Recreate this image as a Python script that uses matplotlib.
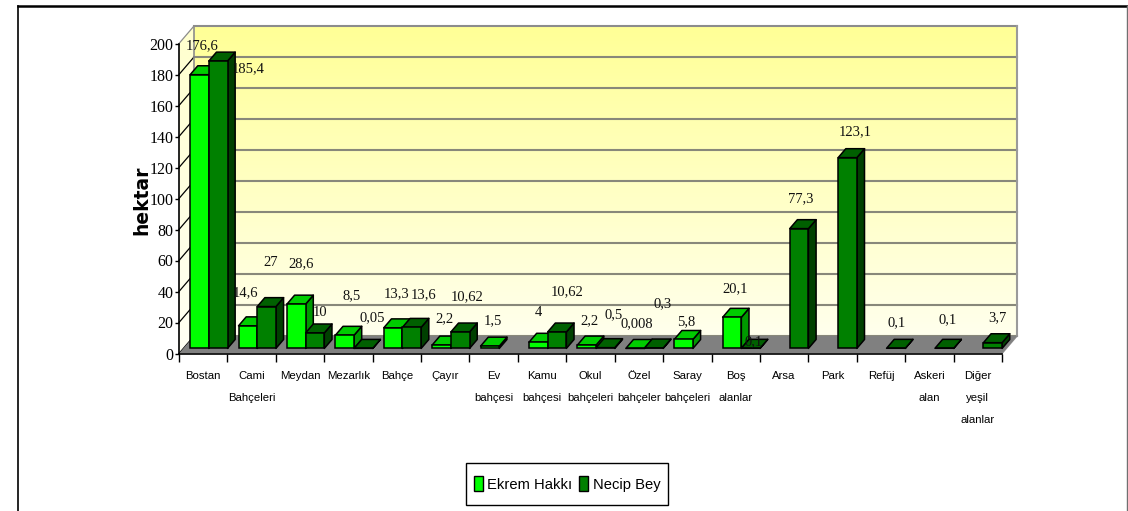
import numpy as np
import matplotlib
matplotlib.use("Agg")
import matplotlib.pyplot as plt
from matplotlib.lines import Line2D
from matplotlib.patches import Patch, Polygon, Rectangle

categories = ["Bostan", "Cami\nBahçeleri", "Meydan", "Mezarlık", "Bahçe", "Çayır", "Ev\nbahçesi",
              "Kamu\nbahçesi", "Okul\nbahçeleri", "Özel\nbahçeler", "Saray\nbahçeleri", "Boş\nalanlar",
              "Arsa", "Park", "Refüj", "Askeri\nalan", "Diğer\nyeşil\nalanlar"]
ekrem = [176.6, 14.6, 28.6, 8.5, 13.3, 2.2, 1.5, 4, 2.2, 0.008, 5.8, 20.1,
         None, None, None, None, None]
necip = [185.4, 27, 10, 0.05, 13.6, 10.62, None, 10.62, 0.5, 0.3, None, 0.1,
         77.3, 123.1, 0.1, 0.1, 3.7]
ekrem_text = ["176,6", "14,6", "28,6", "8,5", "13,3", "2,2", "1,5", "4", "2,2", "0,008", "5,8", "20,1",
              None, None, None, None, None]
necip_text = ["185,4", "27", "10", "0,05", "13,6", "10,62", None, "10,62", "0,5", "0,3", None, "0,1",
              "77,3", "123,1", "0,1", "0,1", "3,7"]

# hand placed value labels, pixels from the top of the bar front
ekrem_nudge = [(3, 29), (-2, 33), (5, 40), (7, 40), (3, 34), (3, 26), (3, 25), (0, 30), (3, 24), (2, 25),
               (3, 18), (3, 29), None, None, None, None, None]
necip_nudge = [(30, -8), (4, 44), (5, 20), (9, 31), (12, 33), (7, 35), None, (10, 40), (8, 33), (9, 44),
               None, (3, 7), (2, 30), (8, 26), (1, 26), (3, 29), (5, 25)]

W, H = 1128, 511
LEFT, RIGHT, BOTTOM, TOP = 179, 1002, 353.5, 43.5
DEPTH_PX = (15, 17.5)
N = len(categories)
YMAX = 200
X_UNIT = (RIGHT - LEFT) / N
Y_UNIT = (BOTTOM - TOP) / YMAX
DX, DY = DEPTH_PX[0] / X_UNIT, DEPTH_PX[1] / Y_UNIT

NUM_FONT = "Liberation Serif"
CAT_FONT = "Liberation Sans"

fig = plt.figure(figsize=(W / 100, H / 100), dpi=100)
ax = fig.add_axes([LEFT / W, 1 - BOTTOM / H, (RIGHT - LEFT) / W, (BOTTOM - TOP) / H])


def pt(x, v, d=0.0):
    return (x + d * DX, v + d * DY)


def face(points, color, z, ec="black", lw=1.1):
    p = Polygon(points, closed=True, fc=color, ec=ec, lw=lw, clip_on=False, zorder=z, joinstyle="round")
    ax.add_patch(p)
    return p


def gradient(top_blue, bottom_blue, outline):
    # yellow wall, the blue channel fades going down
    blue = np.linspace(top_blue, bottom_blue, 256)
    grad = np.stack([np.full(256, 255.0), np.full(256, 255.0), blue], axis=1)[:, None, :].astype(np.uint8)
    clip = Polygon(outline, closed=True, transform=ax.transData, fc="none", ec="none")
    im = ax.imshow(grad, extent=(0, N + DX, 0, YMAX + DY), aspect="auto", origin="upper", zorder=0)
    im.set_clip_box(fig.bbox)
    im.set_clip_path(clip)


gradient(150, 242, [pt(0, 0, 1), pt(0, YMAX, 1), pt(N, YMAX, 1), pt(N, 0, 1)])
gradient(205, 245, [pt(0, 0), pt(0, YMAX), pt(0, YMAX, 1), pt(0, 0, 1)])
ax.set_xlim(0, N)
ax.set_ylim(0, YMAX)

# grid on the back wall and slanted lines on the side wall
for v in range(0, YMAX + 1, 20):
    back_col = "#88887a" if v < YMAX else "#8c8c8c"
    ax.plot(*zip(pt(0, v, 1), pt(N, v, 1)), color=back_col, lw=1.5, clip_on=False, zorder=1)
    side_col = "black" if v < YMAX else "#8c8c8c"
    ax.plot(*zip(pt(0, v), pt(0, v, 1)), color=side_col, lw=0.9, clip_on=False, zorder=1)
ax.plot(*zip(pt(0, 0, 1), pt(0, YMAX, 1)), color="#8c8c8c", lw=1.2, clip_on=False, zorder=1)
ax.plot(*zip(pt(N, 0, 1), pt(N, YMAX, 1)), color="#9a9a9a", lw=1.5, clip_on=False, zorder=1)
ax.plot(*zip(pt(N, 0), pt(N, 0, 1)), color="#8c8c8c", lw=1.0, clip_on=False, zorder=1)

# floor
face([pt(0, 0), pt(N, 0), pt(N, 0, 1), pt(0, 0, 1)], "#808080", 1.5, ec="none")

# bars
BAR_W = 0.386
D0, D1 = 0.29, 0.8
FRONT = {"ekrem": "#00ff00", "necip": "#008000"}
TOPS = {"ekrem": "#00cc00", "necip": "#006000"}
SIDE = {"ekrem": "#009900", "necip": "#004000"}
z = 2.0
for i in range(N):
    for key, vals, off in (("ekrem", ekrem, 0.14), ("necip", necip, 0.526)):
        v = vals[i]
        if v is None:
            continue
        x0, x1 = i + off, i + off + BAR_W
        face([pt(x1, 0, D0), pt(x1, 0, D1), pt(x1, v, D1), pt(x1, v, D0)], SIDE[key], z)
        face([pt(x0, v, D0), pt(x1, v, D0), pt(x1, v, D1), pt(x0, v, D1)], TOPS[key], z + 0.01)
        fx, fy = pt(x0, 0, D0)
        ax.bar(fx, v, width=BAR_W, bottom=fy, align="edge", color=FRONT[key], edgecolor="black",
               linewidth=1.1, clip_on=False, zorder=z + 0.02)
        z += 0.1

# value labels
for vals, texts, nudges, off in ((ekrem, ekrem_text, ekrem_nudge, 0.14), (necip, necip_text, necip_nudge, 0.526)):
    for i, (v, t, n) in enumerate(zip(vals, texts, nudges)):
        if t is None:
            continue
        ax.annotate(t, xy=pt(i + off + BAR_W / 2, v, D0), xytext=n, textcoords="offset pixels",
                    ha="center", va="center", fontsize=10.5, family=NUM_FONT, color="#111111",
                    annotation_clip=False, zorder=20)

# axes
for s in ("top", "right"):
    ax.spines[s].set_visible(False)
for s in ("left", "bottom"):
    ax.spines[s].set_linewidth(1.2)
    ax.spines[s].set_zorder(10)
ax.set_yticks(range(0, YMAX + 1, 20))
ax.tick_params(axis="y", length=3, width=1, pad=1, labelsize=11.5)
for lab in ax.get_yticklabels():
    lab.set_family(NUM_FONT)
ax.set_xticks(range(N + 1))
ax.set_xticklabels([])
ax.tick_params(axis="x", which="major", length=6, width=1)
ax.set_xticks(np.arange(N) + 0.5, minor=True)
ax.set_xticklabels(categories, minor=True, family=CAT_FONT, fontsize=8.2, linespacing=2.5, va="top")
ax.tick_params(axis="x", which="minor", length=0, pad=12.5)

fig.text(142 / W, 1 - 200 / H, "hektar", rotation=90, ha="center", va="center",
         family="DejaVu Sans", fontweight="bold", fontsize=13.5)

# legend, the box is drawn apart because the text is wider than the original narrow font
fig.add_artist(Rectangle((466 / W, 1 - 505 / H), 202 / W, 42 / H, transform=fig.transFigure,
                         fc="white", ec="black", lw=1.0))
handles = [Patch(fc=FRONT["ekrem"], ec="black", lw=1, label="Ekrem Hakkı"),
           Patch(fc=FRONT["necip"], ec="black", lw=1, label="Necip Bey")]
fig.legend(handles=handles, ncol=2, loc="center", bbox_to_anchor=(567 / W, 1 - 484 / H),
           prop={"family": CAT_FONT, "size": 10.6}, frameon=False,
           handlelength=0.6, handleheight=1.2, handletextpad=0.3, columnspacing=0.5,
           borderpad=0, borderaxespad=0)

# outer frame of the picture
fig.add_artist(Line2D([18 / W, 1], [1 - 6 / H, 1 - 6 / H], color="black", lw=1.8))
fig.add_artist(Line2D([18 / W, 18 / W], [0, 1 - 6 / H], color="black", lw=1.2))
fig.add_artist(Line2D([1127 / W, 1127 / W], [0, 1 - 6 / H], color="#707070", lw=1.0))

fig.savefig("out.png", dpi=100)
